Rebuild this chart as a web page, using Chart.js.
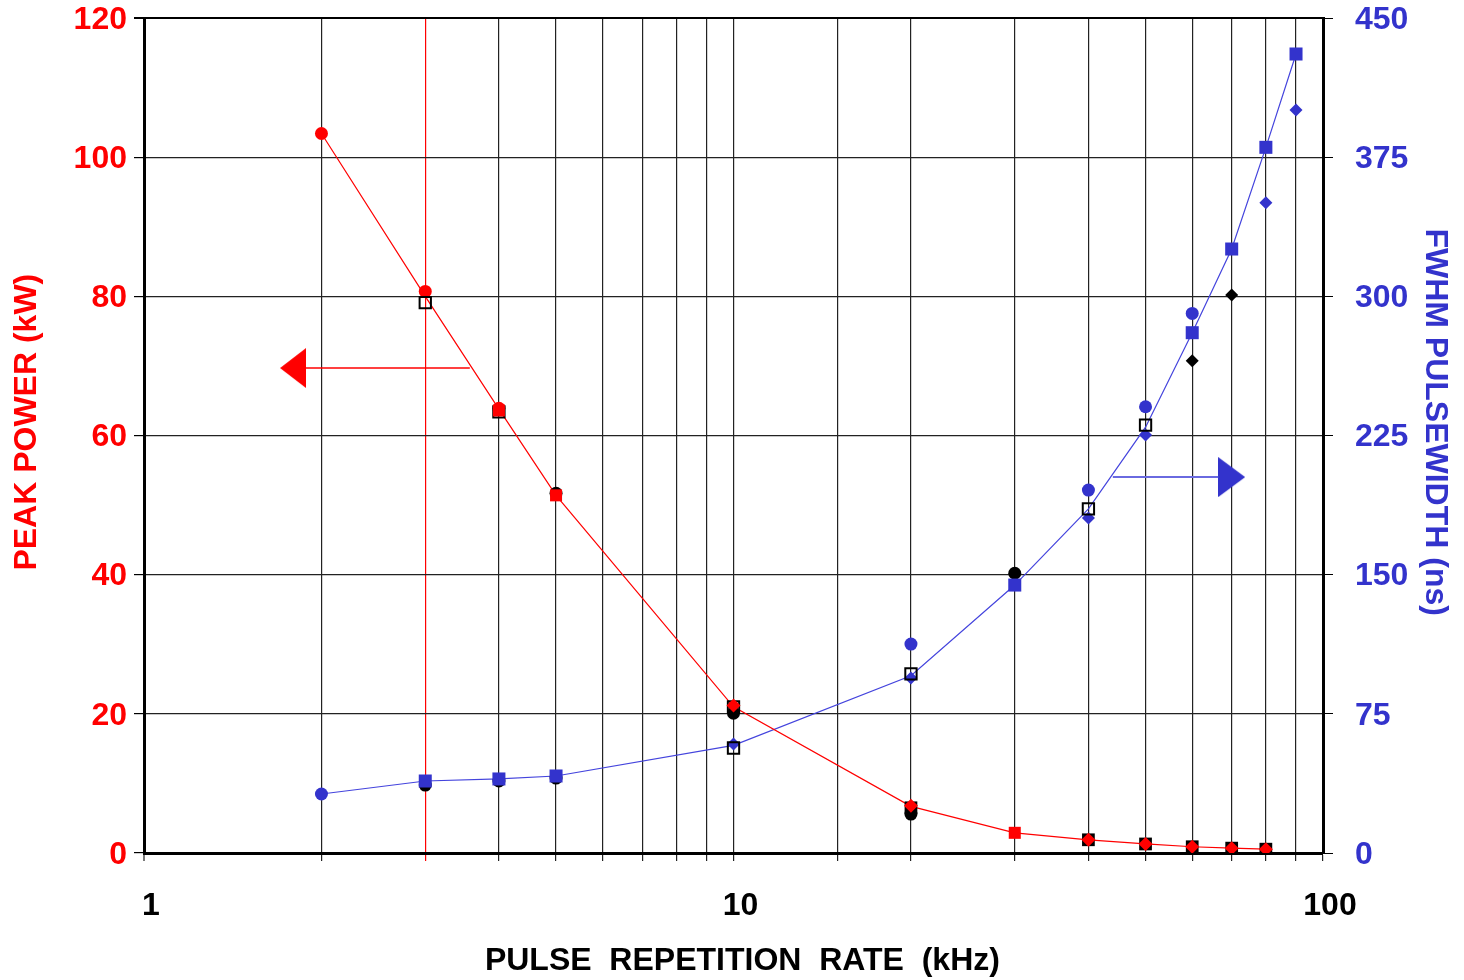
<!DOCTYPE html>
<html>
<head>
<meta charset="utf-8">
<script src="https://cdn.jsdelivr.net/npm/chart.js@4.4.1/dist/chart.umd.min.js"></script>
<style>
  html, body { margin: 0; padding: 0; background: #ffffff; }
  #wrap { width: 1464px; height: 980px; position: relative; }
</style>
</head>
<body>
<div id="wrap"><canvas id="prfChart"></canvas></div>
<script>
// Peak power (left axis, kW) - the red curve
const powerRateKHz = [2, 3, 4, 5, 10, 20, 30, 40, 50, 60, 70, 80];
const peakPowerKW = [103.4, 80.0, 63.8, 51.4, 21.0, 6.7, 2.9, 1.9, 1.3, 0.9, 0.7, 0.55];

// FWHM pulsewidth (right axis, ns) - the blue curve
const widthRateKHz = [2, 3, 4, 5, 10, 20, 30, 40, 50, 60, 70, 80, 90];
const pulseWidthNs = [31.8, 38.8, 39.9, 41.5, 58.0, 95.5, 144.4, 185.5, 229.5, 280.4, 325.5, 380.3, 430.6];

// Individual measurement markers
const redCircleX = [2, 3, 4];
const redCircleKW = [103.4, 80.7, 63.9];
const redSquareX = [4, 5, 30];
const redSquareKW = [63.6, 51.4, 2.9];
const redDiamondX = [10, 20, 40, 50, 60, 70, 80];
const redDiamondKW = [21.2, 6.8, 1.9, 1.3, 0.9, 0.7, 0.55];

const blackOpenSqX = [3, 4, 10];
const blackOpenSqKW = [79.1, 63.4, 21.0];
const blackSquareX = [20, 40, 50, 60, 70, 80];
const blackSquareKW = [6.5, 1.9, 1.3, 0.9, 0.7, 0.55];
const blackCircleX = [5, 10, 20, 30];
const blackCircleKW = [51.7, 20.1, 5.6, 40.2];

const blueCircleX = [2, 20, 40, 50, 60];
const blueCircleNs = [31.8, 112.6, 195.6, 240.5, 290.8];
const blueSquareX = [3, 4, 5, 30, 60, 70, 80, 90];
const blueSquareNs = [38.8, 39.9, 41.5, 144.4, 280.4, 325.5, 380.3, 430.6];
const blueDiamondX = [10, 20, 40, 50, 80, 90];
const blueDiamondNs = [58.7, 94.3, 180.5, 225.3, 350.5, 400.4];

const blackOpenSqWX = [10, 20, 40, 50];
const blackOpenSqNs = [56.6, 96.5, 185.5, 230.6];
const blackCircleWX = [3, 4, 5];
const blackCircleNs = [36.6, 38.8, 40.4];
const blackDiamondX = [60, 70];
const blackDiamondNs = [265.3, 300.7];

// Axis arrows (which curve belongs to which axis)
const powerArrowX = [1.88, 3.57];
const powerArrowKW = [69.7, 69.7];
const powerHeadX = [1.79];
const widthArrowX = [44.0, 66.4];
const widthArrowNs = [202.6, 202.6];
const widthHeadX = [70.0];

const leftTicksKW = [0, 20, 40, 60, 80, 100, 120];
const rightTicksNs = [0, 75, 150, 225, 300, 375, 450];

const RED = '#ff0000';
const BLUE = '#3333cc';
const FONT = 'Liberation Sans, Arial, sans-serif';

const toPoints = (xs, ys) => xs.map((x, i) => ({ x: x, y: ys[i] }));

// arrow head image, pointing left or right
function arrowHead(color, w, h, pointLeft) {
    const c = document.createElement('canvas');
    c.width = w;
    c.height = h;
    const g = c.getContext('2d');
    g.fillStyle = color;
    g.beginPath();
    if (pointLeft) {
        g.moveTo(0, h / 2);
        g.lineTo(w, 0);
        g.lineTo(w, h);
    } else {
        g.moveTo(w, h / 2);
        g.lineTo(0, 0);
        g.lineTo(0, h);
    }
    g.closePath();
    g.fill();
    return c;
}

function markers(xs, ys, axis, style, radius, fill, stroke, strokeWidth) {
    return {
        data: toPoints(xs, ys),
        yAxisID: axis,
        showLine: false,
        pointStyle: style,
        pointRadius: radius,
        pointBackgroundColor: fill,
        pointBorderColor: stroke || fill,
        pointBorderWidth: strokeWidth || 0
    };
}

function curve(xs, ys, axis, color, width) {
    return {
        data: toPoints(xs, ys),
        yAxisID: axis,
        showLine: true,
        borderColor: color,
        borderWidth: width,
        pointRadius: 0,
        tension: 0
    };
}

const datasets = [
    markers(redDiamondX, redDiamondKW, 'y', 'rectRot', 7, RED),
    markers(redSquareX, redSquareKW, 'y', 'rect', 8.5, RED),
    markers(blueSquareX, blueSquareNs, 'y1', 'rect', 9.2, BLUE),
    markers(blackOpenSqX, blackOpenSqKW, 'y', 'rect', 8, 'rgba(0,0,0,0)', '#000000', 2),
    markers(blackOpenSqWX, blackOpenSqNs, 'y1', 'rect', 8, 'rgba(0,0,0,0)', '#000000', 2),
    markers(blueDiamondX, blueDiamondNs, 'y1', 'rectRot', 6.5, BLUE),
    markers(blackSquareX, blackSquareKW, 'y', 'rect', 9, '#000000'),
    markers(redCircleX, redCircleKW, 'y', 'circle', 6.5, RED),
    markers(blueCircleX, blueCircleNs, 'y1', 'circle', 6.5, BLUE),
    markers(blackCircleX, blackCircleKW, 'y', 'circle', 6.5, '#000000'),
    markers(blackCircleWX, blackCircleNs, 'y1', 'circle', 6.5, '#000000'),
    markers(blackDiamondX, blackDiamondNs, 'y1', 'rectRot', 6.5, '#000000'),
    curve(powerRateKHz, peakPowerKW, 'y', RED, 1.2),
    curve(widthRateKHz, pulseWidthNs, 'y1', '#4444dd', 1.2),
    curve(powerArrowX, powerArrowKW, 'y', RED, 1.5),
    curve(widthArrowX, widthArrowNs, 'y1', '#6a6ae0', 2),
    markers(powerHeadX, [powerArrowKW[0]], 'y', arrowHead(RED, 26, 40, true), 13, RED),
    markers(widthHeadX, [widthArrowNs[0]], 'y1', arrowHead(BLUE, 27, 40, false), 13, BLUE)
];

const isDecade = v => Math.abs(Math.log10(v) - Math.round(Math.log10(v))) < 1e-9;

// keep the plot box where the original has it
function fixVertical(width) {
    return s => {
        s.width = width;
        s.paddingTop = 18;
        s.paddingBottom = 0;
    };
}

new Chart(document.getElementById('prfChart'), {
    type: 'scatter',
    data: { datasets: datasets },
    options: {
        responsive: true,
        maintainAspectRatio: false,
        animation: false,
        events: [],
        layout: { padding: { top: 18, left: 0, right: 0, bottom: 0 } },
        plugins: {
            legend: { display: false },
            tooltip: { enabled: false }
        },
        scales: {
            x: {
                type: 'logarithmic',
                min: 1,
                max: 100,
                afterFit: s => { s.height = 127; },
                border: { display: true, color: '#000000', width: 3 },
                grid: {
                    color: c => (c.tick && c.tick.value === 3) ? RED : '#222222',
                    lineWidth: c => (c.tick && c.tick.value === 1) ? 0 : 1.2,
                    tickColor: c => (c.tick && c.tick.value === 3) ? RED : '#222222',
                    tickWidth: 1.2,
                    tickLength: 8,
                    drawTicks: true
                },
                ticks: {
                    autoSkip: false,
                    maxRotation: 0,
                    padding: 26,
                    labelOffset: 7,
                    color: '#000000',
                    font: { family: FONT, size: 32, weight: 'bold' },
                    callback: v => isDecade(v) ? String(Math.round(v)) : ''
                },
                title: {
                    display: true,
                    text: '  PULSE  REPETITION  RATE  (kHz)',
                    color: '#000000',
                    font: { family: FONT, size: 32, weight: 'bold' },
                    padding: { top: 0, bottom: 0 }
                }
            },
            y: {
                type: 'linear',
                position: 'left',
                min: 0,
                max: 120,
                afterFit: fixVertical(144),
                afterBuildTicks: s => { s.ticks = leftTicksKW.map(v => ({ value: v })); },
                border: { display: true, color: '#000000', width: 3 },
                grid: {
                    color: c => (c.tick && c.tick.value === 120) ? '#000000' : '#222222',
                    lineWidth: c => (c.tick && c.tick.value === 120) ? 2 : 1.2,
                    tickColor: '#000000',
                    tickLength: 10
                },
                ticks: {
                    padding: 7,
                    labelOffset: 2,
                    color: RED,
                    font: { family: FONT, size: 32, weight: 'bold' }
                },
                title: {
                    display: true,
                    text: '   PEAK POWER (kW)',
                    color: RED,
                    font: { family: FONT, size: 32, weight: 'bold' },
                    padding: { top: 8, bottom: 0 }
                }
            },
            y1: {
                type: 'linear',
                position: 'right',
                min: 0,
                max: 450,
                afterFit: fixVertical(141),
                afterBuildTicks: s => { s.ticks = rightTicksNs.map(v => ({ value: v })); },
                border: { display: true, color: '#000000', width: 3 },
                grid: {
                    drawOnChartArea: false,
                    color: '#000000',
                    tickLength: 10
                },
                ticks: {
                    padding: 22,
                    labelOffset: 2,
                    color: BLUE,
                    font: { family: FONT, size: 32, weight: 'bold' }
                },
                title: {
                    display: true,
                    text: 'FWHM PULSEWIDTH (ns)   ',
                    color: BLUE,
                    font: { family: FONT, size: 32, weight: 'bold' },
                    padding: { top: 10, bottom: 0 }
                }
            }
        }
    }
});
</script>
</body>
</html>
